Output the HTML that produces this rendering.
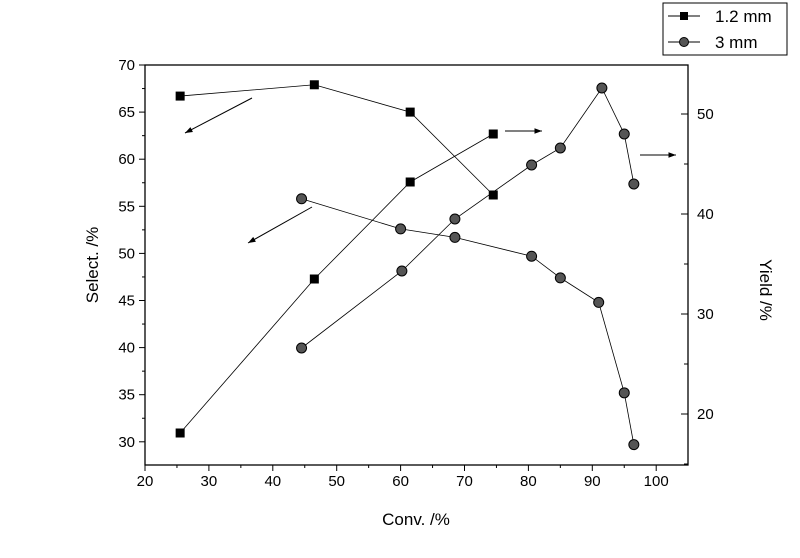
<!DOCTYPE html>
<html><head><meta charset="utf-8"><style>body{margin:0;background:#fff}svg{display:block}text{font-family:"Liberation Sans",sans-serif;fill:#000}</style></head>
<body>
<svg id="c" width="800" height="558" viewBox="0 0 800 558" xmlns="http://www.w3.org/2000/svg">
<g id="g"></g>
</svg>
<script>
const xTicks=[20,30,40,50,60,70,80,90,100];
const leftTicks=[30,35,40,45,50,55,60,65,70];
const rightTicks=[20,30,40,50];
const sel12X=[25.5,46.5,61.5,74.5];
const sel12Y=[66.7,67.9,65.0,56.2];
const yld12X=[25.5,46.5,61.5,74.5];
const yld12Y=[18.1,33.5,43.2,48.0];
const sel3X=[44.5,60,68.5,80.5,85,91,95,96.5];
const sel3Y=[55.8,52.6,51.7,49.7,47.4,44.8,35.2,29.7];
const yld3X=[44.5,60.2,68.5,80.5,85,91.5,95,96.5];
const yld3Y=[26.6,34.3,39.5,44.9,46.6,52.6,48.0,43.0];

const L=145,R=688,T=65,B=465;
const xs=v=>145+(v-20)*6.39;
const yl=v=>65+(70-v)*9.42;
const yr=v=>414-(v-20)*10;
const NS="http://www.w3.org/2000/svg";
const g=document.getElementById('g');
function mk(t,a,name,parent){const e=document.createElementNS(NS,t);for(const k in a)e.setAttribute(k,a[k]);


(parent||g).appendChild(e);return e;}
mk('rect',{x:L,y:T,width:R-L,height:B-T,fill:'none',stroke:'#000','stroke-width':1.3},'plot-frame');
xTicks.forEach(v=>{const x=xs(v);mk('line',{x1:x,y1:B,x2:x,y2:B+6,stroke:'#000'},'x-tick');
const t=mk('text',{x:x,y:B+21,'text-anchor':'middle','font-size':15},'x-tick-label');t.textContent=v;});
for(let v=25;v<105;v+=10)mk('line',{x1:xs(v),y1:B,x2:xs(v),y2:B+3,stroke:'#000'},'x-minor-tick');
leftTicks.forEach(v=>{const y=yl(v);mk('line',{x1:L,y1:y,x2:L-6,y2:y,stroke:'#000'},'left-tick');
const t=mk('text',{x:L-10,y:y+5,'text-anchor':'end','font-size':15},'left-tick-label');t.textContent=v;});
for(let v=32.5;v<70;v+=5)mk('line',{x1:L,y1:yl(v),x2:L-3,y2:yl(v),stroke:'#000'},'left-minor-tick');
rightTicks.forEach(v=>{const y=yr(v);mk('line',{x1:R,y1:y,x2:R-7,y2:y,stroke:'#000'},'right-tick');
const t=mk('text',{x:R+9,y:y+5,'font-size':15},'right-tick-label');t.textContent=v;});
for(let v=15;v<55;v+=10)mk('line',{x1:R,y1:yr(v),x2:R-4,y2:yr(v),stroke:'#000'},'right-minor-tick');
let t=mk('text',{x:416,y:525,'text-anchor':'middle','font-size':17},'x-axis-title');t.textContent='Conv. /%';
t=mk('text',{x:0,y:0,'text-anchor':'middle','font-size':17,transform:'translate(98,265) rotate(-90)'},'left-axis-title');t.textContent='Select. /%';
t=mk('text',{x:0,y:0,'text-anchor':'middle','font-size':17,transform:'translate(760,290) rotate(90)'},'right-axis-title');t.textContent='Yield /%';
function series(X,Y,f,shape,name){const pts=X.map((x,i)=>[xs(x),f(Y[i])]);
mk('polyline',{points:pts.map(p=>p.join(',')).join(' '),fill:'none',stroke:'#000','stroke-width':0.8},name+'-line');
pts.forEach(p=>{if(shape==='sq')mk('rect',{x:p[0]-4.5,y:p[1]-4.5,width:9,height:9,fill:'#000'},name+'-point');
else mk('circle',{cx:p[0],cy:p[1],r:5,fill:'#555',stroke:'#000','stroke-width':1},name+'-point');});}
series(sel12X,sel12Y,yl,'sq','select-1.2mm');
series(yld12X,yld12Y,yr,'sq','yield-1.2mm');
series(sel3X,sel3Y,yl,'ci','select-3mm');
series(yld3X,yld3Y,yr,'ci','yield-3mm');
function arrow(x1,y1,x2,y2){mk('line',{x1,y1,x2,y2,stroke:'#000','stroke-width':1},'arrow-line');
const a=Math.atan2(y2-y1,x2-x1),s=8;
const p=[[x2,y2],[x2-s*Math.cos(a-0.35),y2-s*Math.sin(a-0.35)],[x2-s*Math.cos(a+0.35),y2-s*Math.sin(a+0.35)]];
mk('polygon',{points:p.map(q=>q.join(',')).join(' '),fill:'#000'},'arrow-head');}
arrow(252,98,185,133);arrow(312,207,248,243);arrow(505,131,542,131);arrow(640,155,676,155);
mk('rect',{x:663,y:3,width:124,height:52,fill:'#fff',stroke:'#000'},'legend-box');
mk('line',{x1:668,y1:16,x2:700,y2:16,stroke:'#000'},'legend-line-1.2mm');
mk('rect',{x:680,y:12,width:8,height:8,fill:'#000'},'legend-marker-1.2mm');
t=mk('text',{x:715,y:22,'font-size':17},'legend-label-1.2mm');t.textContent='1.2 mm';
mk('line',{x1:668,y1:42,x2:700,y2:42,stroke:'#000'},'legend-line-3mm');
mk('circle',{cx:684,cy:42,r:4.5,fill:'#555',stroke:'#000'},'legend-marker-3mm');
t=mk('text',{x:715,y:48,'font-size':17},'legend-label-3mm');t.textContent='3 mm';
</script>
</body></html>
